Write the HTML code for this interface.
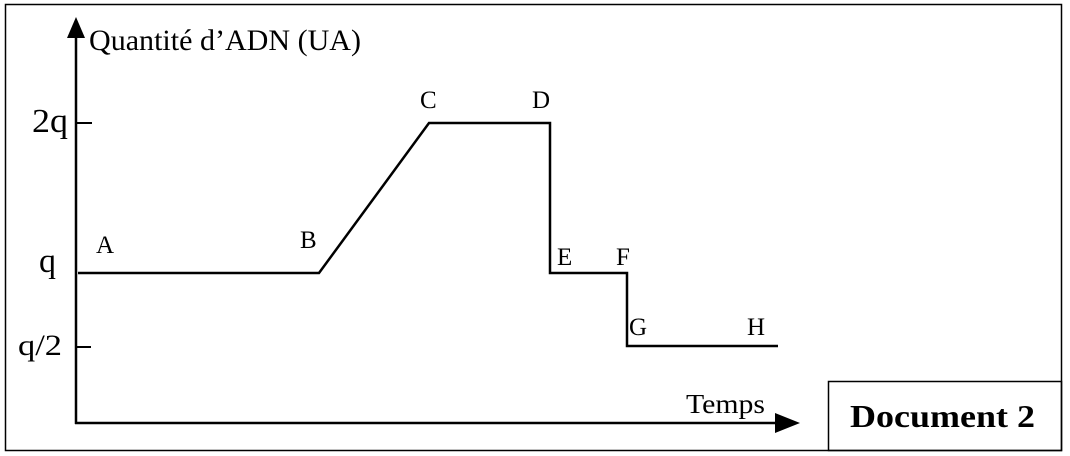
<!DOCTYPE html>
<html><head><meta charset="utf-8"><style>
html,body{margin:0;padding:0;background:#fff;}
svg{display:block;}
text{font-family:"Liberation Serif",serif;fill:#000;}
</style></head><body>
<svg width="1070" height="456" viewBox="0 0 1070 456" xmlns="http://www.w3.org/2000/svg">
<rect x="5.5" y="4.5" width="1056" height="446" fill="none" stroke="#000" stroke-width="1.5"/>
<rect x="828.5" y="381.5" width="233" height="69" fill="none" stroke="#000" stroke-width="1.5"/>
<text x="850" y="427" font-size="32" font-weight="bold" textLength="185" lengthAdjust="spacingAndGlyphs">Document 2</text>
<!-- axes -->
<line x1="76" y1="32" x2="76" y2="424" stroke="#000" stroke-width="2.5"/>
<polygon points="76,17 67,38 85,38" fill="#000"/>
<line x1="75" y1="423" x2="780" y2="423" stroke="#000" stroke-width="2.5"/>
<polygon points="800,423 775,413 775,433" fill="#000"/>
<!-- ticks -->
<line x1="76" y1="123" x2="92" y2="123" stroke="#000" stroke-width="2"/>
<line x1="76" y1="347" x2="91" y2="347" stroke="#000" stroke-width="2"/>
<!-- curve -->
<polyline points="78,273 319,273 429,123 550,123 550,273 627,273 627,346 778,346" fill="none" stroke="#000" stroke-width="2.5"/>
<!-- labels -->
<text x="89" y="50" font-size="30" textLength="272" lengthAdjust="spacingAndGlyphs">Quantité d’ADN (UA)</text>
<text x="32" y="132" font-size="34" textLength="36" lengthAdjust="spacingAndGlyphs">2q</text>
<text x="39" y="272" font-size="34">q</text>
<text x="18" y="355" font-size="30" textLength="44" lengthAdjust="spacingAndGlyphs">q/2</text>
<text x="96" y="253" font-size="25">A</text>
<text x="300" y="248" font-size="25">B</text>
<text x="420" y="108" font-size="25">C</text>
<text x="532" y="108" font-size="25">D</text>
<text x="557" y="265" font-size="25">E</text>
<text x="616" y="265" font-size="25">F</text>
<text x="629" y="335" font-size="25">G</text>
<text x="747" y="335" font-size="25">H</text>
<text x="686" y="413" font-size="27" textLength="79" lengthAdjust="spacingAndGlyphs">Temps</text>
</svg>
</body></html>
